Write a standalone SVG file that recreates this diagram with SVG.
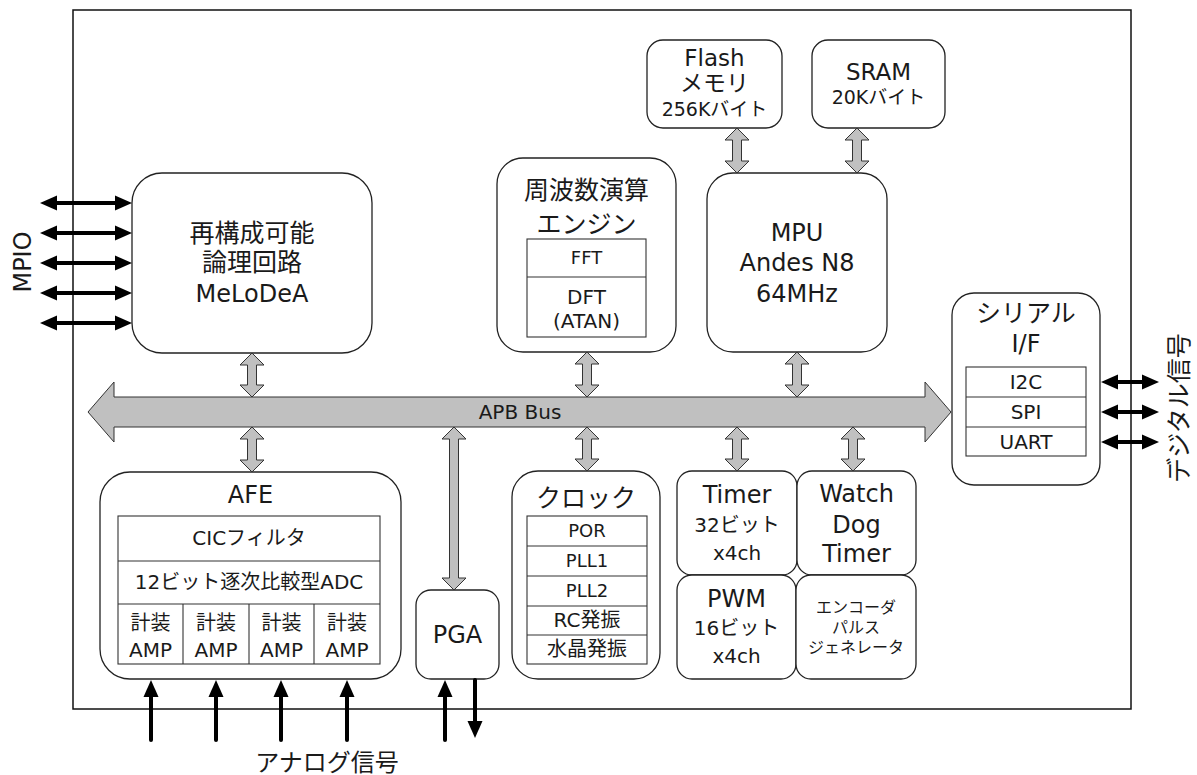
<svg xmlns="http://www.w3.org/2000/svg" width="1197" height="775" viewBox="0 0 1197 775">
<defs>
<style>
text{font-family:"DejaVu Sans","Noto Sans CJK JP",sans-serif;fill:#1a1a1a;text-anchor:middle}
.box{fill:#fff;stroke:#222;stroke-width:1.3}
.cell{fill:none;stroke:#333;stroke-width:1.1}
.t24{font-size:24px}
.t23{font-size:23px}
.t25{font-size:25px}
.t20{font-size:20px}
.t19{font-size:19px}
.t18{font-size:18px}
.t16{font-size:16px}
.bus{fill:#c0c0c0;stroke:#333;stroke-width:1}
.sig{stroke:#000;stroke-width:4;fill:none;stroke-linecap:round}
</style>
<marker id="ah" viewBox="0 0 17 17" markerWidth="17" markerHeight="17" markerUnits="userSpaceOnUse" refX="1" refY="8.5" orient="auto-start-reverse">
<path d="M0,1 L17,8.5 L0,16 Z" fill="#000"/>
</marker>
</defs>
<rect width="1197" height="775" fill="#fff"/>
<rect id="chip" x="73" y="10" width="1058" height="699" fill="none" stroke="#111" stroke-width="1.5"/>

<g id="flash">
<rect class="box" x="647" y="40" width="135" height="88" rx="16"/>
<text class="t23" x="714.5" y="66">Flash</text>
<text class="t23" x="714.5" y="91">メモリ</text>
<text class="t19" x="714.5" y="116">256Kバイト</text>
</g>
<g id="sram">
<rect class="box" x="812" y="40" width="133" height="88" rx="16"/>
<text class="t23" x="878.5" y="80">SRAM</text>
<text class="t19" x="878.5" y="104">20Kバイト</text>
</g>
<g id="melodea">
<rect class="box" x="132" y="173" width="240" height="180" rx="30"/>
<text class="t25" x="252" y="242">再構成可能</text>
<text class="t25" x="252" y="271">論理回路</text>
<text class="t24" x="252" y="302">MeLoDeA</text>
</g>
<g id="freq">
<rect class="box" x="497" y="158" width="179" height="194" rx="26"/>
<text class="t25" x="586.5" y="199">周波数演算</text>
<text class="t25" x="586.5" y="233">エンジン</text>
<rect class="cell" x="527" y="239" width="119" height="98"/>
<line class="cell" x1="527" y1="277" x2="646" y2="277"/>
<text class="t18" x="586.5" y="264">FFT</text>
<text class="t20" x="586.5" y="304">DFT</text>
<text class="t20" x="586.5" y="328">(ATAN)</text>
</g>
<g id="mpu">
<rect class="box" x="707" y="173" width="180" height="179" rx="26"/>
<text class="t24" x="797" y="241">MPU</text>
<text class="t24" x="797" y="271">Andes N8</text>
<text class="t24" x="797" y="302">64MHz</text>
</g>
<g id="serial">
<rect class="box" x="952" y="293" width="148" height="192" rx="22"/>
<text class="t25" x="1026" y="322">シリアル</text>
<text class="t24" x="1026" y="352">I/F</text>
<rect class="cell" x="966" y="367" width="120" height="89"/>
<line class="cell" x1="966" y1="397" x2="1086" y2="397"/>
<line class="cell" x1="966" y1="427" x2="1086" y2="427"/>
<text class="t20" x="1026" y="389">I2C</text>
<text class="t20" x="1026" y="419">SPI</text>
<text class="t20" x="1026" y="449">UART</text>
</g>
<g id="afe">
<rect class="box" x="100" y="472" width="301" height="207" rx="30"/>
<text class="t24" x="250.5" y="503">AFE</text>
<rect class="cell" x="118" y="516" width="262" height="148"/>
<line class="cell" x1="118" y1="561" x2="380" y2="561"/>
<line class="cell" x1="118" y1="604" x2="380" y2="604"/>
<line class="cell" x1="183" y1="604" x2="183" y2="664"/>
<line class="cell" x1="249" y1="604" x2="249" y2="664"/>
<line class="cell" x1="314" y1="604" x2="314" y2="664"/>
<text class="t20" x="249" y="545">CICフィルタ</text>
<text class="t20" x="249" y="589">12ビット逐次比較型ADC</text>
<text class="t20" x="150.5" y="630">計装</text>
<text class="t20" x="150.5" y="657">AMP</text>
<text class="t20" x="216" y="630">計装</text>
<text class="t20" x="216" y="657">AMP</text>
<text class="t20" x="281.5" y="630">計装</text>
<text class="t20" x="281.5" y="657">AMP</text>
<text class="t20" x="347" y="630">計装</text>
<text class="t20" x="347" y="657">AMP</text>
</g>
<g id="pga">
<rect class="box" x="416" y="590" width="83" height="89" rx="15"/>
<text class="t24" x="457.5" y="643">PGA</text>
</g>
<g id="clock">
<rect class="box" x="512" y="471" width="148" height="208" rx="26"/>
<text class="t25" x="586" y="507">クロック</text>
<rect class="cell" x="527" y="516" width="120" height="148"/>
<line class="cell" x1="527" y1="546" x2="647" y2="546"/>
<line class="cell" x1="527" y1="576" x2="647" y2="576"/>
<line class="cell" x1="527" y1="606" x2="647" y2="606"/>
<line class="cell" x1="527" y1="635" x2="647" y2="635"/>
<text class="t18" x="587" y="537">POR</text>
<text class="t18" x="587" y="567">PLL1</text>
<text class="t18" x="587" y="597">PLL2</text>
<text class="t20" x="587" y="627">RC発振</text>
<text class="t20" x="587" y="656">水晶発振</text>
</g>
<g id="timer">
<rect class="box" x="677" y="471" width="120" height="104" rx="15"/>
<text class="t24" x="737" y="503">Timer</text>
<text class="t20" x="737" y="532">32ビット</text>
<text class="t20" x="737" y="560">x4ch</text>
</g>
<g id="wdt">
<rect class="box" x="797" y="471" width="119" height="104" rx="15"/>
<text class="t24" x="856.5" y="502">Watch</text>
<text class="t24" x="856.5" y="533">Dog</text>
<text class="t24" x="856.5" y="562">Timer</text>
</g>
<g id="pwm">
<rect class="box" x="677" y="575" width="119" height="104" rx="15"/>
<text class="t24" x="736.5" y="607">PWM</text>
<text class="t20" x="736.5" y="635">16ビット</text>
<text class="t20" x="736.5" y="663">x4ch</text>
</g>
<g id="encoder">
<rect class="box" x="796" y="575" width="120" height="104" rx="15"/>
<text class="t16" x="856" y="613">エンコーダ</text>
<text class="t16" x="856" y="633">パルス</text>
<text class="t16" x="856" y="653">ジェネレータ</text>
</g>

<g id="apb-bus">
<path class="bus" d="M88,412 L114,382 L114,397 L925,397 L925,382 L951,412 L925,442 L925,427 L114,427 L114,442 Z"/>
<text class="t20" x="520" y="419">APB Bus</text>
</g>

<g id="connectors">
<g class="bus">
<path d="M737,128 L749,140 L741.5,140 L741.5,161 L749,161 L737,173 L725,161 L732.5,161 L732.5,140 L725,140 Z"/>
<path d="M857,128 L869,140 L861.5,140 L861.5,161 L869,161 L857,173 L845,161 L852.5,161 L852.5,140 L845,140 Z"/>
<path d="M252,353 L264,365 L256.5,365 L256.5,385 L264,385 L252,397 L240,385 L247.5,385 L247.5,365 L240,365 Z"/>
<path d="M587,352 L599,364 L591.5,364 L591.5,385 L599,385 L587,397 L575,385 L582.5,385 L582.5,364 L575,364 Z"/>
<path d="M797,352 L809,364 L801.5,364 L801.5,385 L809,385 L797,397 L785,385 L792.5,385 L792.5,364 L785,364 Z"/>
<path d="M252,427 L264,439 L256.5,439 L256.5,460 L264,460 L252,472 L240,460 L247.5,460 L247.5,439 L240,439 Z"/>
<path d="M454,427 L466,439 L458.5,439 L458.5,578 L466,578 L454,590 L442,578 L449.5,578 L449.5,439 L442,439 Z"/>
<path d="M587,427 L599,439 L591.5,439 L591.5,459 L599,459 L587,471 L575,459 L582.5,459 L582.5,439 L575,439 Z"/>
<path d="M737,427 L749,439 L741.5,439 L741.5,459 L749,459 L737,471 L725,459 L732.5,459 L732.5,439 L725,439 Z"/>
<path d="M853,427 L865,439 L857.5,439 L857.5,459 L865,459 L853,471 L841,459 L848.5,459 L848.5,439 L841,439 Z"/>
</g>
<g class="sig">
<line x1="56" y1="203" x2="116" y2="203" marker-start="url(#ah)" marker-end="url(#ah)"/>
<line x1="56" y1="233" x2="116" y2="233" marker-start="url(#ah)" marker-end="url(#ah)"/>
<line x1="56" y1="263" x2="116" y2="263" marker-start="url(#ah)" marker-end="url(#ah)"/>
<line x1="56" y1="293" x2="116" y2="293" marker-start="url(#ah)" marker-end="url(#ah)"/>
<line x1="56" y1="323" x2="116" y2="323" marker-start="url(#ah)" marker-end="url(#ah)"/>
<line x1="1117" y1="382" x2="1143" y2="382" marker-start="url(#ah)" marker-end="url(#ah)"/>
<line x1="1117" y1="412" x2="1143" y2="412" marker-start="url(#ah)" marker-end="url(#ah)"/>
<line x1="1117" y1="442" x2="1143" y2="442" marker-start="url(#ah)" marker-end="url(#ah)"/>
<line x1="151" y1="740" x2="151" y2="696" marker-end="url(#ah)"/>
<line x1="216" y1="740" x2="216" y2="696" marker-end="url(#ah)"/>
<line x1="281" y1="740" x2="281" y2="696" marker-end="url(#ah)"/>
<line x1="347" y1="740" x2="347" y2="696" marker-end="url(#ah)"/>
<line x1="445" y1="740" x2="445" y2="696" marker-end="url(#ah)"/>
<line x1="475" y1="680" x2="475" y2="722" marker-end="url(#ah)"/>
</g>
</g>

<g id="labels">
<text class="t24" transform="translate(31,262) rotate(-90)">MPIO</text>
<text class="t25" transform="translate(1188,408) rotate(-90)">デジタル信号</text>
<text class="t24" x="327" y="771">アナログ信号</text>
</g>
</svg>
